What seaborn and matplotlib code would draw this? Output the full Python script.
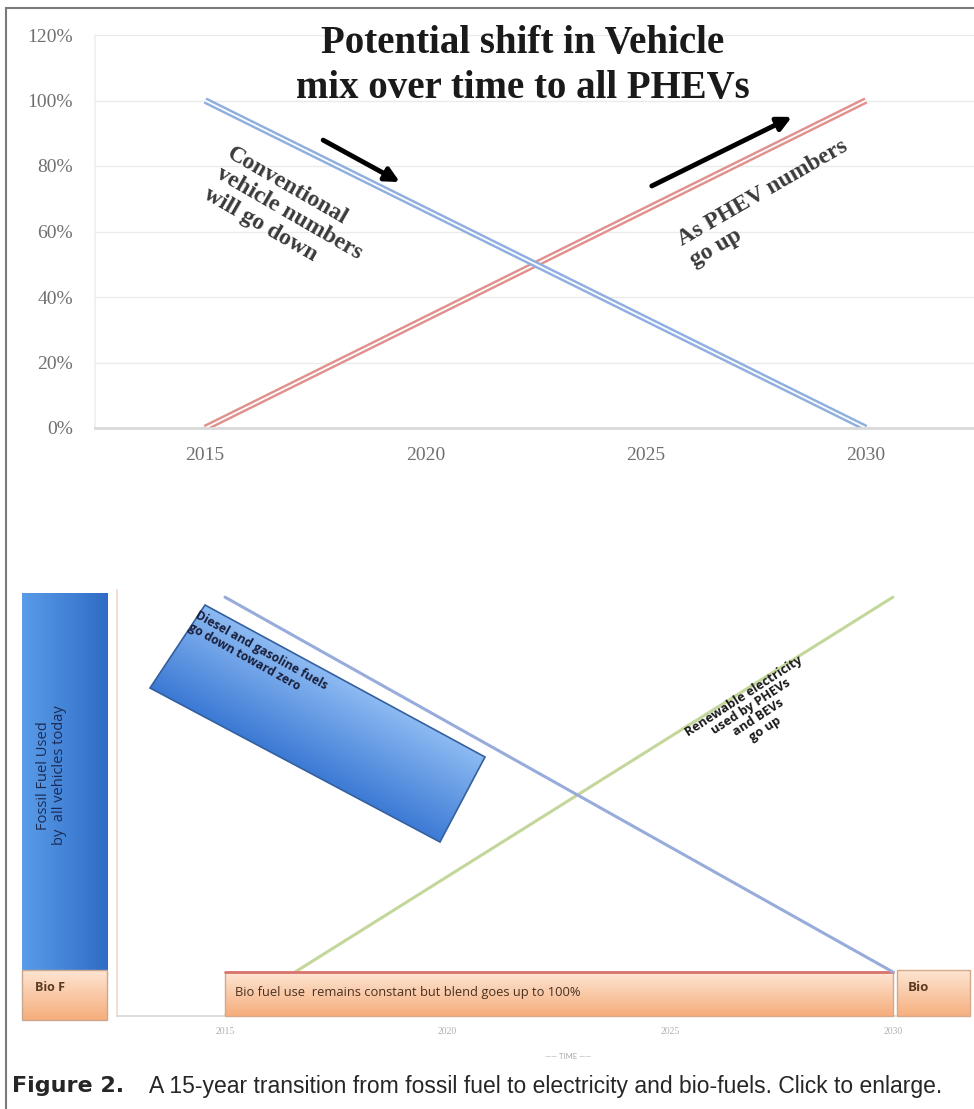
import numpy as np
import pandas as pd
import matplotlib
matplotlib.use("Agg")
import matplotlib.pyplot as plt
from matplotlib.colors import LinearSegmentedColormap
from matplotlib.patches import Polygon, Rectangle
import seaborn as sns

# --- top chart: vehicle mix ---
years = [2015, 2030]
conventional = [100, 0]
phev = [0, 100]
year_ticks = [2015, 2020, 2025, 2030]
pct_ticks = [0, 20, 40, 60, 80, 100, 120]

# --- bottom chart: fuel use ---
fossil_fuel = [100, 10.5]
renewable = [0, 100]
bio_level = 10.5          # bio fuel band, 2015-2030
today_fossil = [11, 101]  # bottom / top of "today" fossil bar
today_bio = [-1, 11]
bio_end = [0, 11]

sns.set_theme(style="white")
plt.rcParams["font.family"] = ["Liberation Serif", "DejaVu Serif"]

W, H = 974, 1109
fig = plt.figure(figsize=(W / 100, H / 100), dpi=100)


def box(l, t, r, b):
    # pixel box -> figure fraction
    return [l / W, 1 - b / H, (r - l) / W, (b - t) / H]


def gradient_bar(ax, x0, x1, y0, y1, c0, c1, horizontal=False, ec="none", z=3):
    rect = Rectangle((x0, y0), x1 - x0, y1 - y0, fc="none", ec=ec, lw=1, zorder=z + 0.1, clip_on=False)
    ax.add_patch(rect)
    g = np.linspace(0, 1, 256)
    img = g[None, :] if horizontal else g[:, None]
    cmap = LinearSegmentedColormap.from_list("g", [c0, c1])
    im = ax.imshow(img, extent=(x0, x1, y0, y1), origin="lower", cmap=cmap, aspect="auto", zorder=z)
    im.set_clip_path(rect)
    return rect


# ================= top chart =================
ax = fig.add_axes(box(95, 35, 976, 428))
top = pd.DataFrame({
    "year": years * 2,
    "share": conventional + phev,
    "series": ["Conventional"] * 2 + ["PHEV"] * 2,
})
for name, col in [("PHEV", "#e0918c"), ("Conventional", "#8eafe0")]:
    d = top[top.series == name]
    sns.lineplot(data=d, x="year", y="share", color=col, lw=4.8, ax=ax, solid_capstyle="butt")
    sns.lineplot(data=d, x="year", y="share", color="white", lw=1.3, ax=ax, solid_capstyle="butt")

ax.set_xlim(2012.5, 2032.5)
ax.set_ylim(0, 120)
ax.set_xticks(year_ticks)
ax.set_yticks(pct_ticks)
ax.set_yticklabels([f"{v}%" for v in pct_ticks])
ax.set_xlabel("")
ax.set_ylabel("")
ax.grid(axis="y", color="#ebebeb", lw=1)
ax.tick_params(length=0, labelsize=14, labelcolor="#707070")
ax.tick_params(axis="y", pad=16)
ax.tick_params(axis="x", pad=14)
for s in ["top", "right"]:
    ax.spines[s].set_visible(False)
ax.spines["left"].set_color("#f0f0f0")
ax.spines["bottom"].set_color("#d9d9d9")
ax.spines["bottom"].set_linewidth(2)

ax.text(2016.9, 65.5, "Conventional\nvehicle numbers\nwill go down", rotation=-30,
        rotation_mode="anchor", ha="center", va="center", multialignment="left",
        fontsize=17, fontweight="bold", color="#3a3a3a", linespacing=1.15)
ax.text(2027.8, 68.5, "As PHEV numbers\ngo up", rotation=30,
        rotation_mode="anchor", ha="center", va="center", multialignment="left",
        fontsize=17, fontweight="bold", color="#3a3a3a", linespacing=1.15)
arrow = dict(arrowstyle="-|>,head_length=0.7,head_width=0.35", lw=3.5, color="black",
             shrinkA=0, shrinkB=0)
ax.annotate("", xy=(2019.42, 75.1), xytext=(2017.68, 87.9), arrowprops=arrow)
ax.annotate("", xy=(2028.32, 95.0), xytext=(2025.14, 73.9), arrowprops=arrow)

fig.text(523 / W, 1 - 66 / H, "Potential shift in Vehicle\nmix over time to all PHEVs",
         ha="center", va="center", fontsize=28, fontweight="bold", linespacing=1.3,
         color="#1a1a1a")

# ================= bottom chart =================
ax2 = fig.add_axes(box(117, 590, 970, 1016))
sns.lineplot(x=years, y=renewable, color="#c4d79b", lw=2.2, ax=ax2, zorder=2)

# bio fuel band 2015-2030
gradient_bar(ax2, years[0], years[1], 0, bio_level, "#f6ad7b", "#fde6d4", ec="#d7a88a")
ax2.plot(years, [bio_level, bio_level], color="#d9746c", lw=2, zorder=4)
# "today" fossil + bio bars, left of the axis
gradient_bar(ax2, 2010.44, 2012.35, today_fossil[0], today_fossil[1], "#5a9ce8", "#2f6cc6",
             horizontal=True)
gradient_bar(ax2, 2010.44, 2012.35, today_bio[0], today_bio[1], "#f6ad7b", "#fde6d4", ec="#c9a88f")
# bio at the end
gradient_bar(ax2, 2030.09, 2031.73, bio_end[0], bio_end[1], "#f6b07f", "#fde6d4", ec="#d7a88a")

sns.lineplot(x=years, y=fossil_fuel, color="#98acdc", lw=2.2, ax=ax2, zorder=5)

ax2.set_xlim(2012.575, 2031.73)
ax2.set_ylim(0, 101.7)
ax2.set_xticks(year_ticks)
ax2.set_yticks([])
ax2.tick_params(length=0, labelsize=7, labelcolor="#b0b0b0", pad=8)
for s in ["top", "right"]:
    ax2.spines[s].set_visible(False)
ax2.spines["left"].set_color("#f3d9cc")
ax2.spines["bottom"].set_color("#d9d9d9")
ax2.set_xlabel("\u2014\u2014 TIME \u2014\u2014", fontsize=5.5, color="#a8a8a8", family="Lato")
ax2.xaxis.set_label_coords((568 - 117) / 853, -(1053 - 1016) / 426)

sans = dict(family=["Open Sans", "DejaVu Sans"])
ax2.text(2011.1, 57.5, "Fossil Fuel Used\nby  all vehicles today", rotation=90, ha="center",
         va="center", fontsize=10.5, color="#1c2b55", linespacing=1.1, **sans)
ax2.text(2010.73, 6.9, "Bio F", ha="left", va="center", fontsize=9, color="#5a3a22",
         fontweight="bold", **sans)
ax2.text(2015.225, 5.5, "Bio fuel use  remains constant but blend goes up to 100%", ha="left",
         va="center", fontsize=9.3, color="#4a3020", **sans)
ax2.text(2030.34, 6.9, "Bio", ha="left", va="center", fontsize=9.5, color="#5a3a22",
         fontweight="bold", **sans)
ax2.text(2026.9, 72.5, "Renewable electricity\nused by PHEVs\nand BEVs\ngo up", rotation=33,
         rotation_mode="anchor", ha="center", va="center", multialignment="center",
         fontsize=9.2, fontweight="bold", color="#1a1a1a", linespacing=1.0, **sans)

# rotated callout for diesel / gasoline (pixel overlay)
ov = fig.add_axes([0, 0, 1, 1])
ov.set_xlim(0, W)
ov.set_ylim(H, 0)
ov.axis("off")
corners = [(205, 605), (485, 757), (440, 842), (150, 688)]
poly = Polygon(corners, closed=True, fc="none", ec="#35609e", lw=1.2, zorder=3)
ov.add_patch(poly)
xs, ys = np.meshgrid(np.arange(150, 486), np.arange(605, 843))
t = np.clip(((xs - 205) * -0.477 + (ys - 605) * 0.879) / 100, 0, 1)
im = ov.imshow(t, extent=(150, 486, 843, 605), origin="upper", aspect="auto", zorder=2,
               cmap=LinearSegmentedColormap.from_list("b", ["#8cbaf2", "#3a78d4"]))
im.set_clip_path(poly)
ov.text(199, 609, "Diesel and gasoline fuels\ngo down toward zero", rotation=-29,
        rotation_mode="anchor", ha="left", va="top", fontsize=8.7, fontweight="bold",
        color="#1a1f3a", linespacing=1.0, **sans)

# caption
fig.text(12 / W, 1 - 1086 / H, "Figure 2.", fontsize=16, fontweight="bold", va="center",
         family="DejaVu Sans")
fig.text(149 / W, 1 - 1086 / H,
         "A 15-year transition from fossil fuel to electricity and bio-fuels. Click to enlarge.",
         fontsize=16.5, va="center", family="Liberation Sans")

# outer frame
fig.add_artist(Rectangle((6 / W, -0.05), 1.2, 1 - 8 / H + 0.05, transform=fig.transFigure,
                         fill=False, ec="#7a7a7a", lw=1.5))

fig.savefig("out.png", dpi=100)
